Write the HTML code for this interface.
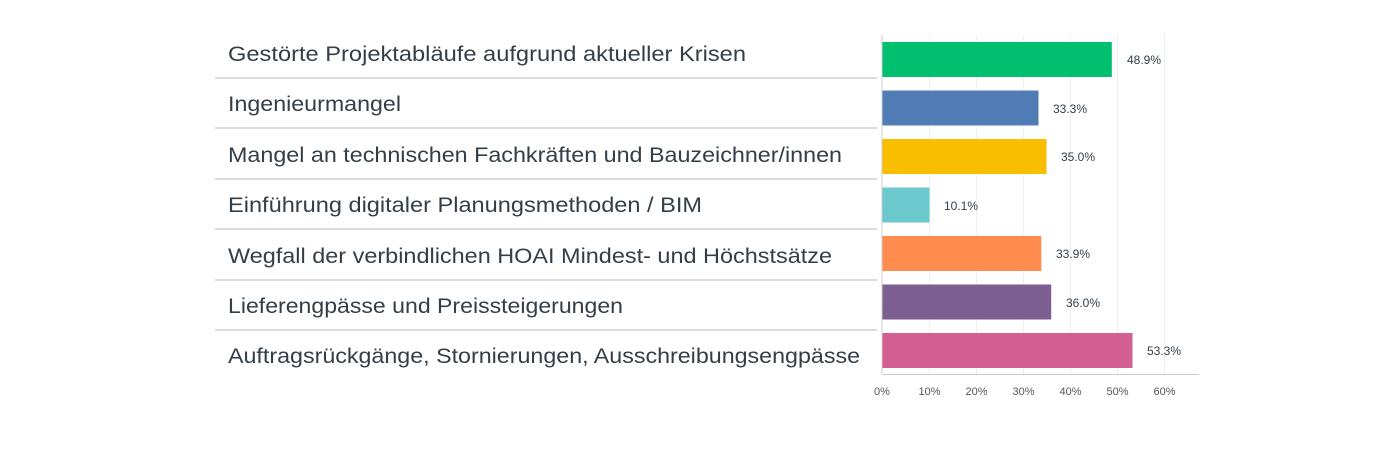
<!DOCTYPE html>
<html><head><meta charset="utf-8"><style>
body{margin:0;background:#fff;width:1400px;height:456px;overflow:hidden;font-family:"Liberation Sans",sans-serif}
</style></head><body>
<svg width="1400" height="456" xmlns="http://www.w3.org/2000/svg" font-family="Liberation Sans, sans-serif">
<g stroke="#eeeeee" stroke-width="1">
<line x1="929.5" y1="35" x2="929.5" y2="374"/><line x1="976.5" y1="35" x2="976.5" y2="374"/>
<line x1="1023.5" y1="35" x2="1023.5" y2="374"/><line x1="1070.5" y1="35" x2="1070.5" y2="374"/>
<line x1="1117.5" y1="35" x2="1117.5" y2="374"/><line x1="1164.5" y1="35" x2="1164.5" y2="374"/>
</g>
<g stroke="#dcdcdc" stroke-width="2">
<line x1="215" y1="78" x2="877" y2="78"/><line x1="215" y1="128" x2="877" y2="128"/>
<line x1="215" y1="179" x2="877" y2="179"/><line x1="215" y1="229" x2="877" y2="229"/>
<line x1="215" y1="280" x2="877" y2="280"/><line x1="215" y1="330" x2="877" y2="330"/>
</g>
<g fill="#333e48" font-size="21.5" lengthAdjust="spacingAndGlyphs">
<text x="228" y="61" textLength="518" lengthAdjust="spacingAndGlyphs">Gestörte Projektabläufe aufgrund aktueller Krisen</text>
<text x="228" y="111" textLength="173" lengthAdjust="spacingAndGlyphs">Ingenieurmangel</text>
<text x="228" y="162" textLength="614" lengthAdjust="spacingAndGlyphs">Mangel an technischen Fachkräften und Bauzeichner/innen</text>
<text x="228" y="212" textLength="474" lengthAdjust="spacingAndGlyphs">Einführung digitaler Planungsmethoden / BIM</text>
<text x="228" y="263" textLength="604" lengthAdjust="spacingAndGlyphs">Wegfall der verbindlichen HOAI Mindest- und Höchstsätze</text>
<text x="228" y="313" textLength="395" lengthAdjust="spacingAndGlyphs">Lieferengpässe und Preissteigerungen</text>
<text x="228" y="363" textLength="632" lengthAdjust="spacingAndGlyphs">Auftragsrückgänge, Stornierungen, Ausschreibungsengpässe</text>
</g>
<rect x="882" y="42" width="229.8" height="35" fill="#00bf6f"/>
<rect x="882" y="90.5" width="156.5" height="35" fill="#507cb6"/>
<rect x="882" y="139" width="164.5" height="35" fill="#f9be00"/>
<rect x="882" y="187.5" width="47.5" height="35" fill="#6bc8cd"/>
<rect x="882" y="236" width="159.3" height="35" fill="#ff8b4f"/>
<rect x="882" y="284.5" width="169.2" height="35" fill="#7d5e90"/>
<rect x="882" y="333" width="250.5" height="35" fill="#d25f90"/>
<g fill="#333e48" font-size="12">
<text x="1127" y="64">48.9%</text>
<text x="1053" y="113">33.3%</text>
<text x="1061" y="161">35.0%</text>
<text x="944" y="210">10.1%</text>
<text x="1056" y="258">33.9%</text>
<text x="1066" y="307">36.0%</text>
<text x="1147" y="355">53.3%</text>
</g>
<line x1="882" y1="35" x2="882" y2="374" stroke="#cccccc" stroke-width="1"/>
<line x1="882" y1="374.5" x2="1199" y2="374.5" stroke="#cccccc" stroke-width="1"/>
<g fill="#555" font-size="11" text-anchor="middle">
<text x="882" y="395">0%</text><text x="929.5" y="395">10%</text><text x="976.5" y="395">20%</text>
<text x="1023.5" y="395">30%</text><text x="1070.5" y="395">40%</text><text x="1117.5" y="395">50%</text><text x="1164.5" y="395">60%</text>
</g>
</svg>
</body></html>
